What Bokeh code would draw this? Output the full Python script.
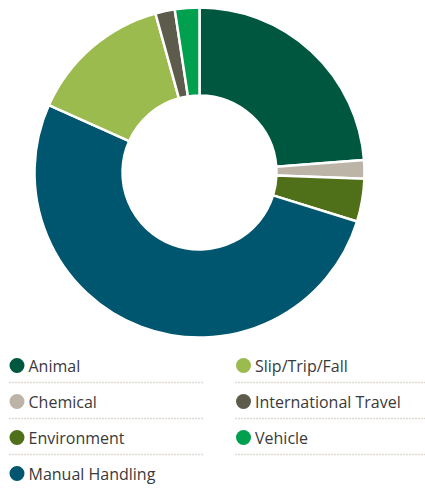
import numpy as np
from bokeh.plotting import figure
from bokeh.models import ColumnDataSource
from bokeh.core.properties import value
from bokeh.embed import file_html
from bokeh.resources import INLINE

categories = ["Animal", "Chemical", "Environment", "Manual Handling",
              "Slip/Trip/Fall", "International Travel", "Vehicle"]
values = [23.8, 1.8, 4.2, 51.9, 14.0, 1.9, 2.4]
colors = ["#00573f", "#bcb4a6", "#4f6f19", "#00566e", "#9bbb4f", "#5d5b4b", "#00a04f"]

W, H = 425, 488
p = figure(width=W, height=H, x_range=(0, W), y_range=(0, H),
           output_backend="svg", toolbar_location=None, min_border=0)
p.axis.visible = False
p.grid.visible = False
p.outline_line_color = None
p.background_fill_color = "white"

vals = np.array(values, dtype=float)
frac = vals / vals.sum()
cum = np.concatenate([[0], np.cumsum(frac)])
start = np.pi / 2 - cum[:-1] * 2 * np.pi
end = np.pi / 2 - cum[1:] * 2 * np.pi

src = ColumnDataSource(dict(start=start, end=end, color=colors, cat=categories))
cx, cy = 199, 316
p.annular_wedge(x=cx, y=cy, inner_radius=77, outer_radius=165,
                start_angle="start", end_angle="end", direction="clock",
                fill_color="color", line_color="white", line_width=2.5, source=src)

# legend (column-wise, 4 rows on left, 3 on right)
row_y = [123, 87, 51, 15]
sep_y = [106, 70, 34]
lx, rx = 16.5, 243
lg_x, lg_y, lg_c, lg_t = [], [], [], []
for i, (c, col) in enumerate(zip(categories, colors)):
    if i < 4:
        x = lx; y = row_y[i]
    else:
        x = rx; y = row_y[i - 4]
    lg_x.append(x); lg_y.append(y); lg_c.append(col); lg_t.append(c)
lsrc = ColumnDataSource(dict(x=lg_x, y=lg_y, c=lg_c, t=lg_t, tx=[v + 11.5 for v in lg_x]))
p.scatter(x="x", y="y", size=15, fill_color="c", line_color=None, source=lsrc)
p.text(x="tx", y="y", text="t", text_font=value("Open Sans"), text_font_size="16px",
       text_color="#3a3a3a", text_baseline="middle", source=lsrc)

x0s = [9, 9, 9, 235, 235, 235]
x1s = [204, 204, 204, 425, 425, 425]
y_s = sep_y + sep_y
p.segment(x0=x0s, y0=y_s, x1=x1s, y1=y_s, line_color="#bcb4a6",
          line_width=1.5, line_dash="1 2")

open("out.html", "w").write(file_html(p, INLINE))
